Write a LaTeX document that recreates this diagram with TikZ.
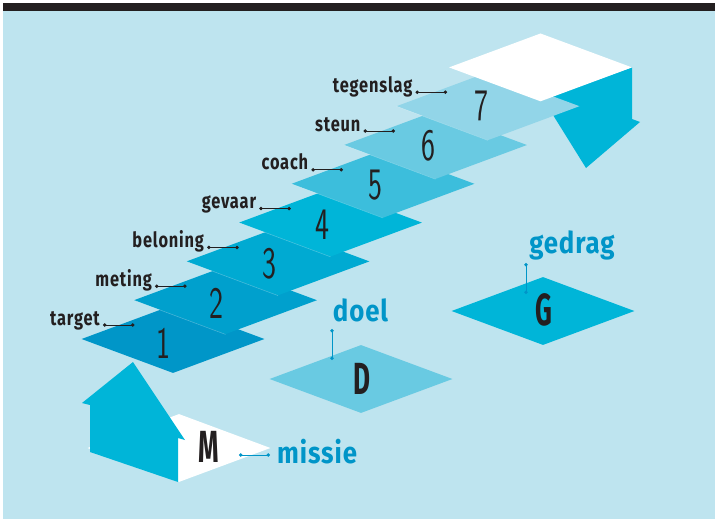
\documentclass[tikz,border=0pt]{standalone}
\usepackage{fontspec}
\usetikzlibrary{shapes.geometric,arrows.meta}
\newfontfamily\lblfont{Fira Sans}[FakeStretch=0.78, LetterSpace=4]
\newfontfamily\bluefont{Fira Sans}[FakeStretch=0.86, LetterSpace=3]
\newfontfamily\numfont{lmsans17-regular.otf}[FakeStretch=0.66]
\newfontfamily\bigfont{Fira Sans}[FakeStretch=0.58]
\definecolor{bg}{HTML}{BEE4EF}
\definecolor{ink}{HTML}{231F20}
\definecolor{lbl}{HTML}{0095C8}
\definecolor{c1}{HTML}{0096C8}
\definecolor{c2}{HTML}{00A0CD}
\definecolor{c3}{HTML}{00AAD2}
\definecolor{c4}{HTML}{00B5D8}
\definecolor{c5}{HTML}{3CBEDC}
\definecolor{c6}{HTML}{69CAE2}
\definecolor{c7}{HTML}{92D5E8}
\definecolor{arrowblue}{HTML}{00B5D8}
\begin{document}
\begin{tikzpicture}[x=1pt,y=-1pt,
  stepdiamond/.style={diamond, draw=none, inner sep=0pt, minimum width=183pt, minimum height=68pt},
  faint/.style={draw=white, opacity=0.3, line width=0.5pt},
  numlbl/.style={font=\numfont\fontsize{45}{45}\selectfont, text=ink, inner sep=0pt},
  steplbl/.style={font=\lblfont\bfseries\fontsize{21}{21}\selectfont, text=ink, inner sep=0pt, anchor=base east},
  bluelbl/.style={font=\bluefont\bfseries\fontsize{30}{30}\selectfont, text=lbl, inner sep=0pt, anchor=base},
  biglbl/.style={font=\bigfont\bfseries\fontsize{45}{45}\selectfont, text=ink, inner sep=0pt},
  leader/.style={draw=ink, line width=0.9pt, arrows={Circle[length=3.4pt]-Circle[length=3.4pt]}},
  blueleader/.style={leader, draw=lbl, fill=lbl},
  arrowshape/.style={fill=arrowblue, draw=none}]
\useasboundingbox (0,0) rectangle (715,519);
\fill[white] (0,0) rectangle (715,519);
\fill[bg] (3,3) rectangle (715,519);
\fill[ink] (3,3) rectangle (715,11);
% steps 1..6
\foreach \i/\c in {1/c1,2/c2,3/c3,4/c4,5/c5,6/c6} {
  \node[stepdiamond, fill=\c] (d\i) at ({173+52.5*(\i-1)}, {339-38.8*(\i-1)}) {};
  \ifnum\i>1 \draw[faint] (d\i.west) -- (d\i.south); \fi
}
% down arrow below step 7
\coordinate (da1) at (553,96);
\coordinate (da2) at (632,67.4);
\coordinate (da3) at (632,119);
\coordinate (da4) at (640,122);
\coordinate (da5) at (586,168);
\coordinate (da6) at (553,115);
\fill[arrowshape] (da1) -- (da2) -- (da3) -- (da4) -- (da5) -- (da6) -- cycle;
\node[stepdiamond, fill=c7] (d7) at (488,106.2) {};
\draw[faint] (d7.west) -- (d7.south);
\node[stepdiamond, fill=white] (d8) at (540.5,67.4) {};
% numbers
\foreach \i in {1,...,7} {
  \node[numlbl] (n\i) at ({163+53*(\i-1)}, {343-39.5*(\i-1)}) {\i};
}
% step labels
\foreach \i/\lab in {1/target,2/meting,3/beloning,4/gevaar,5/coach,6/steun,7/tegenslag} {
  \node[steplbl] (t\i) at ({100+52.1*(\i-1)}, {325-38.8*(\i-1)}) {\lab};
  \coordinate (le\i) at ({134.5+52.1*(\i-1)}, {325-38.8*(\i-1)});
  \draw[leader] ([xshift=3pt]t\i.base east) -- (le\i);
}
% missie
\node[stepdiamond, fill=white] (dm) at (179,448) {};
\coordinate (ua1) at (133,362);
\coordinate (ua2) at (82,403);
\coordinate (ua3) at (90,405);
\coordinate (ua4) at (90,452);
\coordinate (ua5) at (178,482);
\coordinate (ua6) at (178,438);
\coordinate (ua7) at (185,440);
\fill[arrowshape] (ua1) -- (ua2) -- (ua3) -- (ua4) -- (ua5) -- (ua6) -- (ua7) -- cycle;
\node[biglbl] (M) at (208.5,447) {M};
\node[bluelbl, anchor=base west] (missie) at (277,463) {missie};
\coordinate (mle) at (239,455);
\draw[blueleader] ([xshift=-7pt]missie.west |- mle) -- (mle);
% doel
\node[stepdiamond, fill=c6] (dd) at (361,379) {};
\node[biglbl] (D) at (361.5,378.5) {D};
\node[bluelbl] (doel) at (360.5,321) {doel};
\coordinate (dls) at (332,329);
\coordinate (dle) at (332,360);
\draw[blueleader] (dls) -- (dle);
% gedrag
\node[stepdiamond, fill=c4] (dg) at (543,311) {};
\node[biglbl] (G) at (543.5,310) {G};
\node[bluelbl] (gedrag) at (572,253) {gedrag};
\coordinate (gls) at (526,263);
\coordinate (gle) at (526,294);
\draw[blueleader] (gls) -- (gle);
\end{tikzpicture}
\end{document}
